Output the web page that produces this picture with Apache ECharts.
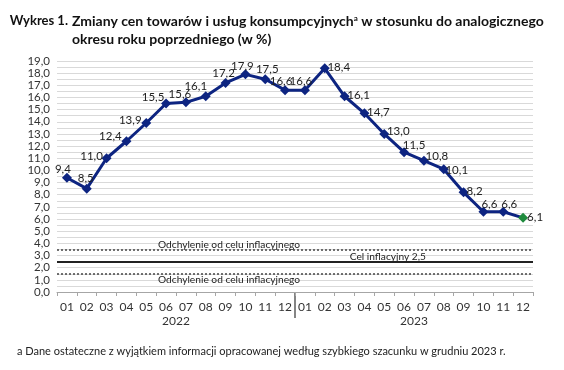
<!DOCTYPE html>
<html><head><meta charset="utf-8">
<script src="https://cdn.jsdelivr.net/npm/echarts@6/dist/echarts.min.js"></script>
<style>html,body{margin:0;padding:0;background:#fff}#c{width:564px;height:370px}</style>
</head><body><div id="c"></div>
<script>
const months = ['01','02','03','04','05','06','07','08','09','10','11','12','01','02','03','04','05','06','07','08','09','10','11','12'];
const years = ['2022','2023'];
const cpi = [9.4,8.5,11.0,12.4,13.9,15.5,15.6,16.1,17.2,17.9,17.5,16.6,16.6,18.4,16.1,14.7,13.0,11.5,10.8,10.1,8.2,6.6,6.6,6.1];
const yTicks = {min:0, max:19, interval:1};
const targetLine = 2.5;
const deviationLines = [3.5, 1.5];
const labelOffsets = [[-4,-8],[-1,-10],[-15,-2],[-16,-5],[-16,-3],[-13,-6],[-6,-8],[-10,-10],[-2,-10],[-3,-8],[2,-10],[-4,-9],[-4,-9],[14,-1],[14,-1],[14,-1],[14,-3],[10,-7],[13,-4],[13,1],[11,-1],[6,-7],[6,-7],[12,-1]];

const FONT = 'Lato';
const fmt = v => v.toFixed(1).replace('.', ',');
const navy = '#0d2481';
const green = '#1e8a3c';

const seriesData = cpi.map((v,i) => ({
  value: v,
  itemStyle: i === cpi.length-1 ? {color: green} : undefined,
  label: {offset: labelOffsets[i]}
}));

const refLabel = {color: '#222', fontSize: 10.2, fontFamily: FONT};

const chart = echarts.init(document.getElementById('c'), null, {renderer:'canvas'});
const option = {
  animation: false,
  backgroundColor: '#fff',
  textStyle: {fontFamily: FONT},
  grid: {left: 57, right: 31, top: 61, bottom: 78},
  xAxis: [{
    type: 'category', data: months, boundaryGap: true,
    axisLine: {lineStyle: {color: '#a6a6a6'}},
    axisTick: {show: true, alignWithLabel: false, length: 4, lineStyle: {color: '#a6a6a6'}},
    axisLabel: {color: '#333', fontSize: 12, fontFamily: FONT, margin: 9, interval: 0}
  }, {
    type: 'category', data: years, position: 'bottom', offset: 14,
    axisLine: {show: false}, axisTick: {show: false},
    axisLabel: {color: '#333', fontSize: 12, fontFamily: FONT, margin: 9}
  }],
  yAxis: {
    type: 'value', min: yTicks.min, max: yTicks.max, interval: yTicks.interval,
    axisLine: {show: false}, axisTick: {show: false},
    axisLabel: {color: '#333', fontSize: 11.5, fontFamily: FONT, margin: 7, formatter: v => fmt(v)},
    splitLine: {lineStyle: {color: '#d9d9d9', width: 1}},
    minorTick: {show: false, splitNumber: 2},
    minorSplitLine: {show: true, lineStyle: {color: '#d9d9d9', width: 1}}
  },
  series: [{
    type: 'line', data: seriesData, xAxisIndex: 0,
    symbol: 'diamond', symbolSize: 10,
    lineStyle: {color: navy, width: 3},
    itemStyle: {color: navy},
    label: {show: true, position: 'inside', color: '#222', fontSize: 11.5, fontFamily: FONT, formatter: p => fmt(p.value)},
    z: 5,
    markLine: {
      silent: true, symbol: 'none', animation: false,
      data: [
        {yAxis: deviationLines[0], lineStyle: {type: [2,2], color: '#444', width: 1.5},
         label: Object.assign({position: 'insideStartTop', distance: [101, 0], formatter: 'Odchylenie od celu inflacyjnego'}, refLabel)},
        {yAxis: targetLine, lineStyle: {type: 'solid', color: '#222', width: 2},
         label: Object.assign({position: 'insideEndTop', distance: [107, 0], formatter: 'Cel inflacyjny 2,5'}, refLabel)},
        {yAxis: deviationLines[1], lineStyle: {type: [2,2], color: '#444', width: 1.5},
         label: Object.assign({position: 'insideStartBottom', distance: [101, 1], formatter: 'Odchylenie od celu inflacyjnego'}, refLabel)}
      ]
    }
  }],
  graphic: [
    {type: 'text', x: 68, y: 14, style: {text: 'Wykres 1.', font: 'bold 13px ' + FONT, fill: '#111', textAlign: 'right'}},
    {type: 'text', left: 72, top: 14, style: {text: '{m|Zmiany cen towarów i usług konsumpcyjnych}{s|a}{m| w stosunku do analogicznego}', rich: {m: {font: 'bold 14px ' + FONT, fill: '#111'}, s: {font: 'bold 8px ' + FONT, fill: '#111', verticalAlign: 'top', padding: [0,0,6,0]}}}},
    {type: 'text', left: 72, top: 32, style: {text: 'okresu roku poprzedniego (w %)', font: 'bold 14px ' + FONT, fill: '#111'}},
    {type: 'text', left: 17, top: 346, style: {text: 'a Dane ostateczne z wyjątkiem informacji opracowanej według szybkiego szacunku w grudniu 2023 r.', font: '11px ' + FONT, fill: '#222'}}
  ]
};
chart.setOption(option);
const xa = chart.convertToPixel({xAxisIndex: 0}, 11);
const xb = chart.convertToPixel({xAxisIndex: 0}, 12);
const y0 = chart.convertToPixel({yAxisIndex: 0}, yTicks.min);
chart.setOption({graphic: option.graphic.concat([
  {type: 'line', shape: {x1: (xa+xb)/2, y1: y0, x2: (xa+xb)/2, y2: y0 + 26}, style: {stroke: '#333', lineWidth: 1.2}}
])});
</script></body></html>
